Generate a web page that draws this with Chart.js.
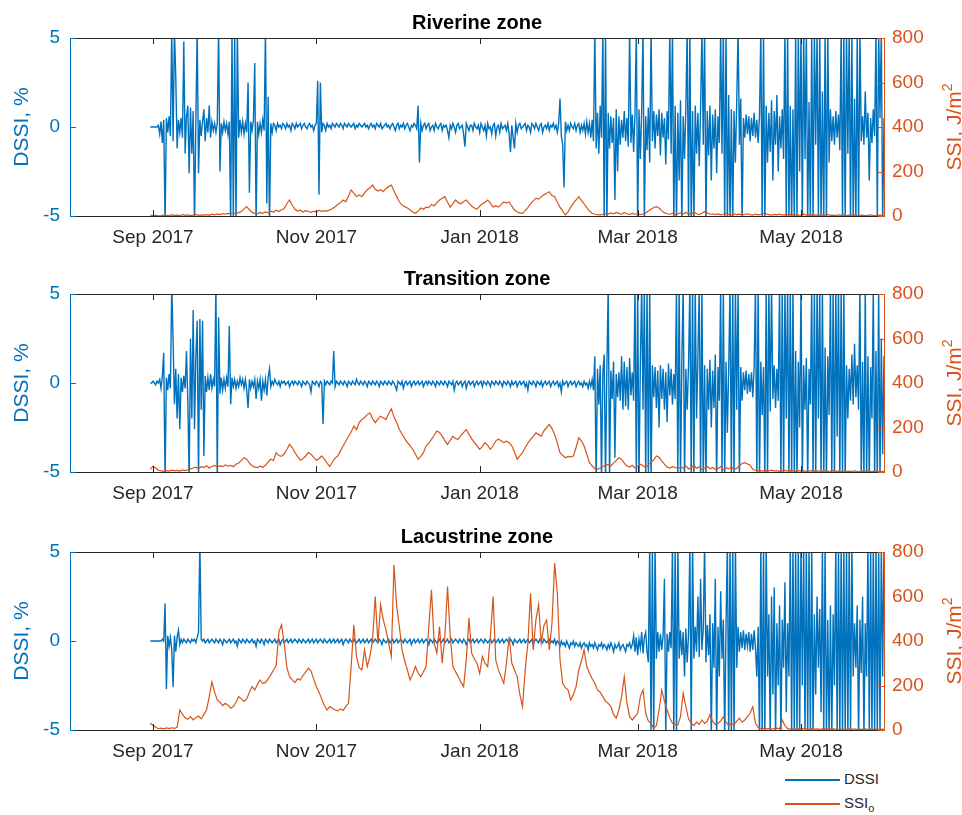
<!DOCTYPE html>
<html>
<head>
<meta charset="utf-8">
<script src="https://cdn.jsdelivr.net/npm/chart.js@4.4.1/dist/chart.umd.min.js"></script>
<style>
  body { margin: 0; background: #fff; width: 962px; height: 815px; position: relative; overflow: hidden;
         font-family: "Liberation Sans", Arial, sans-serif; }
  canvas.panel { position: absolute; left: 0; }
  .ssiTitle { position: absolute; left: 954px; width: 0; height: 0; }
  .ssiTitle span { position: absolute; white-space: nowrap; font-size: 21px; line-height: 24px; color: #D95319;
                   transform: translate(-50%, -50%) rotate(-90deg); }
  .ssiTitle sup { font-size: 14px; line-height: 0; vertical-align: 0; position: relative; top: -9px; }
  .legend { position: absolute; left: 785px; top: 767px; font-size: 15px; color: #262626; }
  .legend .row { height: 24px; line-height: 24px; white-space: nowrap; }
  .legend .swatch { display: inline-block; width: 55px; height: 1.5px; vertical-align: middle; margin-right: 4px; }
  .legend sub { font-size: 11px; }
</style>
</head>
<body>
<canvas id="riverine" class="panel" width="954" height="250" style="top:0px"></canvas>
<canvas id="transition" class="panel" width="954" height="250" style="top:256px"></canvas>
<canvas id="lacustrine" class="panel" width="954" height="250" style="top:514px"></canvas>

<div class="ssiTitle" style="top:127px"><span>SSI, J/m<sup>2</sup></span></div>
<div class="ssiTitle" style="top:383px"><span>SSI, J/m<sup>2</sup></span></div>
<div class="ssiTitle" style="top:641px"><span>SSI, J/m<sup>2</sup></span></div>

<div class="legend">
  <div class="row"><span class="swatch" style="background:#0072BD"></span>DSSI</div>
  <div class="row"><span class="swatch" style="background:#D95319"></span>SSI<sub>o</sub></div>
</div>

<script>
// x axis in days, day 0 = 1 Sep 2017
const tickDays = [0, 61, 122, 181, 242];
const tickLabels = ['Sep 2017', 'Nov 2017', 'Jan 2018', 'Mar 2018', 'May 2018'];
const firstDay = -1;   // records start 31 Aug 2017
const dssiStep = 0.5;  // DSSI: two readings a day
const ssiStep = 1;     // SSI: daily

// DSSI, %  (rows of ten days)
const dssiRiverine = [
  0,0,0,0,0,0,0.1,-0.4,0.3,-0.9,0.4,-5.5,0.5,-0.3,0.6,-0.5,5.5,-0.8,5.5,2.8,
  -1.2,0.4,-0.3,0.5,-0.6,4.8,-1.5,0.6,1.2,-2.6,1.1,-1.5,0.9,-5.5,0.3,5.5,-2.6,0.4,-0.5,0.3,
  1.0,-0.8,0.5,-0.3,1.2,-0.6,0.3,-0.2,0.2,-0.3,0.2,5.5,-2.5,0.2,-0.3,0.3,-0.2,0.2,-0.4,0.3,
  -5.5,5.5,-5.5,5.5,-5.5,5.5,-0.6,0.4,-0.3,0.3,-0.4,0.2,-0.3,2.5,-3.7,0.3,-0.2,0.4,3.6,-5.5,
  0.3,-0.4,0.2,-0.3,0.4,-0.2,5.5,-4.3,1.7,-5.5,0.2,-0.3,0.2,0.1,-0.2,0.2,0,0.1,-0.1,0.2,
  0.1,-0.1,0.2,0,0.1,-0.2,0.2,0.1,-0.1,0.2,0,0.1,0.2,-0.1,0.1,0.2,0,-0.1,0.1,0.2,
  0,0.1,-0.2,0.1,0.2,2.6,-3.8,2.5,-0.3,0.2,0.1,-0.2,0.2,0,0.1,-0.1,0.2,0.1,0,0.2,
  0.1,0,0.2,0.1,-0.1,0.2,0.1,0,0.2,0.1,0,0.1,0.2,-0.1,0.1,0,0.2,0.1,0,0.1,
  0.2,0,0.1,-0.1,0.1,0.2,0,0.1,-0.1,0.2,0.1,0,0.2,-0.1,0,0.1,0.2,0,0.1,-0.1,
  0.1,0.2,0,-0.2,0.1,0.2,-0.1,0.1,0,0.2,-0.1,0.1,0.2,0,-0.2,0.1,0,0.2,0.1,-0.1,
  1.2,-2.0,0.2,-0.2,0.1,0.2,-0.1,0.1,0.2,-0.2,0,0.1,-0.2,0.2,0,-0.1,0.1,0.2,-0.2,0.1,
  0,0.1,-0.2,-0.6,0.1,-0.1,0.2,0,-0.3,0.1,0.2,-0.1,0,0.1,-0.4,-1.1,0.2,0,-0.2,0.1,
  0.1,-0.2,0.2,0,-0.1,0.1,-0.3,0.2,0,-0.2,0.1,-0.5,0.2,-0.1,0,-0.4,0.1,0.2,-0.5,0,
  0.1,-0.3,0.2,-0.1,0,0.1,-0.2,0.2,-0.4,-1.4,0.1,-0.6,-1.2,0.2,-0.3,0.1,0.2,-0.1,0,0.1,
  0.2,-0.2,0.1,0,-0.3,0.2,0.1,-0.1,0.2,0,-0.2,0.1,0.2,-0.3,0,0.1,-0.1,0.2,-0.2,0.1,
  0,0.2,-0.1,0.1,-0.3,0.2,1.6,-0.5,-1.0,-3.4,0.3,-0.2,0.1,-0.2,0.2,0,-0.1,0.2,-0.2,0.1,
  0.2,-0.3,0.1,-0.2,0.2,-0.4,0.3,-0.3,0.2,-0.6,0.4,-0.8,5.5,-1.2,0.8,-1.5,1.2,-0.6,5.5,-5.5,
  5.5,-5.5,0.8,-1.2,0.6,-0.9,0.5,-4.1,1.0,-2.5,0.6,-1.0,0.4,-0.6,0.9,-0.8,0.5,-1.1,5.5,-0.9,
  0.7,-1.4,0.8,5.5,-5.5,1.0,-1.8,0.9,5.5,-5.5,0.6,-1.3,1.1,-2.0,5.5,-0.8,0.9,-1.2,0.7,-0.5,
  1.0,-1.6,0.8,-0.6,0.5,-2.1,0.9,-0.7,5.5,-1.5,5.5,-5.5,1.2,-5.5,0.8,-3.0,1.5,-5.5,0.6,-1.8,
  1.1,5.5,-5.5,5.5,-5.5,0.9,-5.5,1.2,-1.5,0.8,-2.2,1.0,5.5,-1.0,5.5,-5.5,0.9,-1.6,1.2,-3.0,
  0.7,-1.2,1.0,-2.6,0.6,-0.9,5.5,-1.5,5.5,-5.5,5.5,-5.5,1.8,-5.5,1.0,-5.5,0.9,-2.0,1.4,5.5,
  -1.0,1.6,-5.5,0.5,-0.6,0.7,-0.4,0.6,-0.8,0.5,-0.5,0.8,-0.6,0.4,-0.9,0.6,5.5,-5.5,5.5,-5.5,
  1.2,-2.0,0.8,-1.4,1.5,-3.0,0.9,-1.0,1.8,-2.5,0.6,-1.2,1.0,-1.8,5.5,-5.5,5.5,-5.5,1.2,-5.5,
  1.0,-5.5,5.5,-5.5,5.5,-2.5,5.5,-5.5,5.5,-1.8,5.5,-5.5,1.4,-5.5,5.5,-5.5,5.5,-1.0,5.5,-5.5,
  5.5,-5.5,2.0,-5.5,5.5,-5.5,5.5,-2.0,1.0,-0.8,0.6,-1.0,0.9,-0.6,0.7,-1.3,5.5,-5.5,5.5,-5.5,
  5.5,-1.5,5.5,-5.5,5.5,-5.5,1.6,-5.5,5.5,-5.5,5.5,-0.8,0.6,-1.0,2.0,-0.6,0.8,-3.0,0.5,-0.9,
  1.0,-0.5,5.5,-5.5,5.5,0.5,5.5,-5.5,0.5
];
const dssiTransition = [
  0,0,0.1,0,-0.1,0.1,0,0.2,-0.3,0.4,1.7,-5.5,0.3,-0.4,0.5,-0.3,5.5,2.4,-1.2,0.8,
  -2.0,0.5,-2.6,0.3,-0.5,0.4,-0.3,1.8,-1.0,-5.5,2.5,-2.0,4.1,-2.6,1.5,3.5,-5.5,3.6,-1.5,3.5,
  -4.1,0.4,-0.5,0.3,-0.4,0.5,-0.3,0.2,-0.2,5.5,-5.5,3.7,-0.6,0.3,-0.4,0.2,-0.3,0.3,-0.2,3.2,
  -1.2,0.3,-0.2,0.2,-0.3,0.1,-0.2,0.3,-0.1,0.2,-0.3,0.2,-0.4,-1.4,0.2,-0.3,0.1,-0.2,0.2,-0.9,
  0.1,-0.3,0.2,-1.0,0.1,-0.4,0.2,-0.7,0.3,0.8,-0.2,0.1,-0.1,0.2,0,-0.1,0.1,-0.2,0.1,0,
  0.1,-0.1,0,0.1,-0.2,0,0.1,-0.1,0.1,0,-0.1,0.1,0,-0.2,0.1,0,-0.1,0.1,0,-0.1,
  -0.5,0.1,0,-0.1,0.1,0,-0.2,0.1,0,-2.3,0.1,-0.1,0.1,0,-0.1,0.1,0,1.8,-0.2,0.1,
  0,-0.1,0.1,0,-0.1,0.1,0,-0.2,0.1,0,-0.1,0.1,0,-0.1,0.2,0,-0.1,0.1,0,-0.1,
  0.1,0,-0.2,0.1,0,-0.1,0.1,0,-0.1,0.1,0,-0.2,0.1,0,-0.1,0.1,0,-0.1,0.1,0,
  -0.1,0.1,0,-0.2,-0.4,0.1,0,-0.1,0.1,-0.3,0,0.1,-0.1,0,0.1,-0.2,0,0.1,-0.1,0,
  0.1,-0.1,0,0.1,-0.2,0,0.1,-0.1,0.1,0,-0.1,0.1,0,-0.2,0.1,0,-0.1,0.1,0,-0.1,
  0.1,0,-0.2,0.1,0,-0.1,0.1,-0.4,0,0.1,-0.1,0,0.1,-0.2,0,0.1,-0.3,0,0.1,-0.1,
  0,0.1,-0.2,0,0.1,-0.1,0,0.1,-0.2,0.1,0,-0.1,0.1,0,-0.2,0.1,0,-0.1,0.1,0,
  -0.1,0.1,0,-0.2,0.1,0,-0.1,0.1,0,-0.2,0.1,-0.1,0,0.1,-0.2,0,0.1,-0.1,0,0.1,
  -0.2,0,-0.4,0.1,0,-0.1,0.1,0,-0.2,0.1,0,-0.1,0.1,-0.2,0,0.1,-0.1,0,0.1,-0.2,
  0,0.1,-0.1,0,0.1,-0.2,0,-0.5,0.1,-0.1,0,0.1,-0.2,0,0.1,-0.1,0,0.1,-0.2,0,
  0.1,-0.1,0,-0.2,0.1,-0.1,0,-0.3,0.1,-0.2,0.2,-0.4,1.5,-5.5,0.8,-1.2,1.0,-5.5,0.6,1.6,
  -5.5,0.8,5.5,-5.5,0.7,-0.9,1.2,-4.2,0.5,-0.8,0.6,-1.0,1.5,-1.5,1.2,-1.3,0.9,-1.5,1.4,-0.7,
  0.6,-1.0,5.5,-5.5,5.5,-5.5,1.0,5.5,-1.5,5.5,-5.5,5.5,-5.5,5.5,-5.5,1.0,-0.8,0.9,-1.4,0.7,
  -2.5,1.0,-0.9,0.8,-1.5,0.6,-2.2,1.1,-0.7,0.8,-1.2,0.5,-0.9,5.5,-5.5,5.5,-5.5,1.2,5.5,-5.5,
  0.8,-1.5,1.0,5.5,-5.5,5.5,-5.5,5.5,-2.0,1.4,5.5,-5.5,5.5,-5.5,1.0,-5.5,0.8,-1.5,1.3,-2.5,
  0.7,-1.4,1.6,-5.5,0.9,-1.0,5.5,-5.5,5.5,-5.5,1.2,-2.8,0.8,5.5,-5.5,5.5,-5.5,5.5,-1.5,5.5,
  -5.5,0.9,-1.0,0.6,-0.4,0.7,-0.6,0.5,-0.5,0.6,-0.8,0.9,5.5,-5.5,5.5,-5.5,1.2,-1.8,0.9,-5.5,
  5.5,-5.5,5.5,-1.6,5.5,-0.9,1.0,-1.4,0.8,-1.0,5.5,-5.5,5.5,-5.5,5.5,-2.0,5.5,-5.5,5.5,-5.5,
  5.5,-5.5,1.8,-5.5,1.2,-2.5,5.5,-5.5,1.0,-1.5,1.4,-5.5,0.8,-1.2,5.5,-5.5,5.5,-5.5,5.5,-2.0,
  5.5,-5.5,5.5,-5.5,2.0,-5.5,1.5,-1.8,5.5,-5.5,5.5,-5.5,5.5,-3.0,5.5,-5.5,5.5,-5.5,5.5,-5.5,
  1.0,-2.0,0.8,-1.0,1.6,-1.2,2.2,-0.8,1.0,-1.5,5.5,-5.5,1.2,-5.5,5.5,-5.5,1.5,-5.5,0.9,-2.0,
  5.5,-5.5,1.8,-5.5,5.5,-5.5,2.5,-4.0,1.5
];
const dssiLacustrine = [
  0,0,0,0,0,0,0,0,0,0.1,0,2.1,-2.7,0.3,-0.3,0.2,-0.5,-2.6,0.3,-0.6,
  0.2,0.6,-0.2,0.1,-0.1,0.1,0,-0.1,0.1,0,-0.1,0.1,0,0.1,-0.1,0.2,0.5,5.5,0.1,0,
  0.1,-0.1,0,0.1,-0.1,0,0.1,0,-0.1,0.1,0,-0.1,0.1,0,-0.2,0.1,0,-0.1,0,0.1,
  -0.1,0,0.1,-0.1,0,-0.3,0.1,0,-0.1,0.1,0,-0.1,0.1,0,-0.1,0,0.1,-0.1,0,-0.3,
  0.1,0,-0.1,0.1,0,-0.2,0.1,0,-0.1,0.1,0,-0.1,0,0.1,-0.1,0,0.1,-0.2,0,0.1,
  -0.1,0,0.1,-0.1,0,0.1,-0.1,0,0.1,0,-0.1,0.1,0,-0.1,0.1,0,-0.1,0,0.1,-0.1,
  0,0.1,-0.1,0,0.1,-0.1,0,0.1,0,-0.1,0.1,0,-0.1,0,0.1,-0.1,0,0.1,-0.1,0,
  0.1,-0.1,0,0.1,-0.2,0,0.1,0,-0.1,0.1,0,-0.1,0.1,0,-0.1,0,0.1,-0.1,0,0.1,
  -0.1,0,0.1,-0.1,0,0.1,-0.1,0,0.1,0,-0.1,0.1,0,-0.2,0.1,0,-0.1,0,0.1,-0.1,
  0,0.1,-0.1,0,0.1,-0.1,0,0.1,0,-0.1,0.1,0,-0.1,0,0.1,-0.2,0,0.1,-0.1,0,
  0.1,-0.1,0,0.1,-0.1,0,0.1,0,-0.2,0.1,0,-0.1,0.1,0,-0.1,0,0.1,-0.1,0,0.1,
  -0.1,0,0.1,-0.1,0,0.1,-0.1,0,0.1,0,-0.1,0.1,0,-0.1,0.1,0,-0.2,0,0.1,-0.1,
  0,0.1,-0.1,0,0.1,-0.1,0,0.1,0,-0.1,0.1,0,-0.1,0,0.1,-0.1,0,0.1,-0.1,0,
  0.1,-0.1,0,0.1,-0.1,0,0.1,0,-0.1,0.1,0,-0.2,0.1,0,-0.1,0,0.1,-0.1,0,0.1,
  -0.1,0,0.1,-0.1,0,0.1,-0.2,0,0.1,0,-0.1,0.1,0,-0.1,0.1,0,-0.1,0,0.1,-0.1,
  0,-0.1,0.1,-0.2,0,-0.1,-0.3,0,-0.2,-0.1,-0.3,0,-0.2,-0.4,-0.1,-0.2,0,-0.3,-0.1,-0.2,
  -0.3,-0.1,-0.4,-0.2,-0.1,-0.3,-0.2,-0.5,-0.1,-0.3,-0.2,-0.4,-0.1,-0.3,-0.5,-0.2,-0.3,-0.1,-0.4,-0.2,
  -0.3,-0.5,-0.2,-0.4,-0.1,-0.3,-0.6,-0.2,-0.4,-0.3,-0.1,-0.5,-0.3,-0.2,-0.4,-0.6,-0.2,-0.3,-0.1,-0.4,
  -0.2,0.3,-0.6,0.2,-0.8,0.1,-0.4,0.5,-0.7,0.2,0.5,-0.6,-1.2,5.5,-5.5,5.5,-5.5,5.5,-1.0,0.5,
  -0.6,0.4,-0.5,0.3,3.5,-5.5,0.4,-0.6,0.5,-0.4,5.5,-5.5,5.5,-5.5,5.5,-1.0,0.6,-0.8,0.5,-2.0,
  0.7,-1.2,0.4,5.5,-5.5,5.5,-1.0,0.8,-0.6,2.5,-0.9,3.5,-0.5,0.7,5.5,-1.2,0.9,-0.8,1.5,-5.5,
  1.0,-1.5,3.5,-5.5,0.8,-2.0,2.8,-1.0,1.2,-5.5,0.9,5.5,-5.5,5.5,-5.5,5.5,-5.5,5.5,-1.5,0.8,
  -0.6,0.5,-0.4,0.6,-0.5,0.4,-0.3,0.5,-0.6,0.4,-0.5,0.6,-0.4,-2.0,0.8,-5.5,5.5,-5.5,5.5,-5.5,
  5.5,-2.0,1.5,-5.5,2.5,-3.0,3.0,-5.5,1.0,-2.5,2.0,-5.5,1.2,-1.5,3.3,-4.0,1.0,-2.0,5.5,-5.5,
  5.5,-5.5,5.5,-5.5,5.5,-5.5,5.5,-2.5,5.5,-5.5,5.5,-5.5,5.5,-5.5,5.5,-5.5,1.5,-3.0,2.5,-1.5,
  1.8,-4.0,5.5,-5.5,5.5,-5.5,1.2,-5.5,2.0,-5.5,1.5,-2.5,5.5,-5.5,5.5,-5.5,5.5,-5.5,5.5,-5.5,
  5.5,-5.5,5.5,-5.5,5.5,-2.0,1.0,-1.5,2.0,-5.5,1.2,-1.8,2.5,-5.5,1.0,-2.0,5.5,-5.5,5.5,-5.5,
  5.5,-5.5,5.5,-5.5,5.5,-5.5,5.5,-2.0,5.5
];

// SSI, J/m2  (rows of ten days)
const ssiRiverine = [
  4,2,3,1,2,4,3,2,5,3,
  4,2,6,3,5,2,4,7,3,5,
  4,6,3,8,5,9,6,11,8,12,
  10,13,11,15,20,32,42,28,16,12,
  10,16,12,18,14,22,18,26,20,28,
  34,55,72,48,30,22,26,18,24,20,
  16,22,18,26,20,24,22,27,34,42,
  52,60,72,64,90,117,102,88,95,87,
  104,118,126,139,120,112,118,109,124,132,
  139,112,87,64,49,42,36,28,18,12,
  22,36,30,40,38,52,45,60,72,80,
  87,62,40,56,72,60,55,64,72,58,
  45,36,30,44,55,62,72,58,40,46,
  40,52,63,58,63,44,27,18,14,12,
  24,38,55,68,80,76,87,95,102,109,
  92,87,62,40,22,5,18,40,58,72,
  87,70,55,38,22,12,8,6,5,8,
  12,9,14,10,16,12,8,15,10,7,
  12,8,10,6,9,14,22,30,38,42,
  36,24,14,10,8,12,6,10,14,9,
  16,12,8,18,10,6,12,20,14,8,
  10,6,9,5,8,12,7,5,9,6,
  8,5,7,10,6,4,8,5,7,12,
  9,6,4,7,5,8,4,6,5,7,
  4,6,3,5,8,4,6,3,5,4,
  3,5,4,6,3,4,2,5,3,4,
  2,4,3,5,2,3,4,2,3,5,
  3,2,4,3,2
];
const ssiTransition = [
  12,27,18,8,5,3,6,4,8,5,
  7,4,9,6,10,14,18,22,15,24,
  20,28,18,25,30,22,28,24,32,26,
  30,24,35,40,52,64,58,40,28,22,
  20,26,21,30,45,57,52,87,74,70,
  82,102,124,110,87,70,53,60,72,87,
  80,66,53,60,72,58,40,25,45,62,
  72,95,117,138,161,180,206,190,222,236,
  245,258,266,240,222,238,251,244,236,262,
  284,248,222,191,170,150,132,118,102,80,
  57,70,87,118,130,147,165,184,178,161,
  140,124,142,161,150,147,165,178,191,170,
  150,132,118,102,115,132,120,102,118,140,
  147,140,132,138,132,118,90,57,72,87,
  110,130,147,160,176,168,161,185,200,214,
  195,169,130,87,75,64,70,68,72,110,
  154,140,117,80,42,28,15,12,18,25,
  30,34,28,40,52,64,58,40,27,22,
  30,18,25,35,28,20,32,42,55,72,
  66,50,35,22,18,24,20,16,22,18,
  28,14,20,30,16,24,12,18,26,14,
  20,12,16,24,10,18,14,22,12,16,
  28,38,42,36,30,12,8,5,6,4,
  6,5,8,4,6,3,5,7,4,6,
  5,3,6,4,5,3,4,6,3,5,
  4,2,5,3,4,6,3,4,2,5,
  3,4,2,5,3,2,4,3,5,2,
  3,4,2,3,2
];
const ssiLacustrine = [
  30,20,12,6,8,5,9,6,10,7,
  12,90,70,55,48,60,45,55,63,50,
  70,90,150,217,170,135,125,110,120,112,
  98,105,125,150,140,128,140,170,195,180,
  205,225,210,213,230,248,270,290,440,473,
  390,280,240,225,213,230,225,245,260,278,
  265,230,195,170,140,110,90,105,98,90,
  86,95,88,105,120,285,473,330,280,270,
  360,285,330,405,600,390,563,495,450,390,
  330,743,555,465,360,310,270,225,250,285,
  255,240,262,285,465,630,390,345,465,300,
  420,645,420,285,262,240,215,195,315,503,
  345,320,300,255,330,300,285,420,600,315,
  270,240,210,300,420,300,270,240,160,105,
  270,390,615,360,495,563,390,470,495,360,
  480,750,615,315,210,190,180,135,160,195,
  270,310,360,285,255,230,210,180,170,150,
  130,120,105,70,53,90,150,240,120,60,
  45,60,75,150,180,75,40,30,8,20,
  90,180,130,90,55,30,25,23,60,165,
  105,50,30,20,35,25,45,30,40,68,
  40,25,30,40,60,35,20,30,25,40,
  53,35,45,60,75,105,30,12,6,8,
  5,7,4,6,8,5,45,20,6,4,
  5,3,6,4,7,5,3,6,4,5,
  3,5,4,6,3,5,4,2,5,3,
  4,6,3,5,2,4,3,5,2,4,
  3,5,2,4,3
];

const BLUE = '#0072BD';
const ORANGE = '#D95319';
const GREY = '#262626';

Chart.defaults.font.family = '"Liberation Sans", Arial, sans-serif';

function points(values, step) {
  return values.map((v, i) => ({ x: firstDay + i * step, y: v }));
}

// top edge of the box plus inward tick marks on all four sides
const boxTicks = {
  id: 'boxTicks',
  afterDatasetsDraw(chart) {
    const { ctx, chartArea: a, scales } = chart;
    const len = 6;
    ctx.save();
    ctx.lineWidth = 1;
    ctx.strokeStyle = GREY;
    ctx.beginPath();
    ctx.moveTo(a.left, a.top + 0.5);
    ctx.lineTo(a.right, a.top + 0.5);
    scales.x.ticks.forEach(t => {
      const px = Math.round(scales.x.getPixelForValue(t.value)) + 0.5;
      ctx.moveTo(px, a.bottom);
      ctx.lineTo(px, a.bottom - len);
      ctx.moveTo(px, a.top);
      ctx.lineTo(px, a.top + len);
    });
    ctx.stroke();
    ctx.strokeStyle = BLUE;
    ctx.beginPath();
    scales.y.ticks.forEach(t => {
      const py = Math.round(scales.y.getPixelForValue(t.value)) + 0.5;
      ctx.moveTo(a.left, py);
      ctx.lineTo(a.left + len, py);
    });
    ctx.stroke();
    ctx.strokeStyle = ORANGE;
    ctx.beginPath();
    scales.y2.ticks.forEach(t => {
      const py = Math.round(scales.y2.getPixelForValue(t.value)) + 0.5;
      ctx.moveTo(a.right, py);
      ctx.lineTo(a.right - len, py);
    });
    ctx.stroke();
    ctx.restore();
  }
};

function drawPanel(id, title, dssi, ssi) {
  new Chart(document.getElementById(id), {
    type: 'line',
    data: {
      datasets: [
        { label: 'DSSI', data: points(dssi, dssiStep), yAxisID: 'y',
          borderColor: BLUE, borderWidth: 1.4, pointRadius: 0, tension: 0, order: 1 },
        { label: 'SSIo', data: points(ssi, ssiStep), yAxisID: 'y2',
          borderColor: ORANGE, borderWidth: 1.2, pointRadius: 0, tension: 0, order: 0 }
      ]
    },
    options: {
      responsive: false,
      animation: false,
      devicePixelRatio: 1,
      layout: { padding: 0 },
      events: [],
      plugins: {
        legend: { display: false },
        tooltip: { enabled: false },
        title: {
          display: true, text: title, color: '#000',
          font: { size: 20, weight: 'bold', lineHeight: '20px' },
          padding: { top: 13, bottom: 5 }
        }
      },
      scales: {
        x: {
          type: 'linear', min: -31, max: 273,
          afterBuildTicks: s => { s.ticks = tickDays.map(v => ({ value: v })); },
          ticks: {
            callback: v => tickLabels[tickDays.indexOf(v)],
            color: GREY, font: { size: 19 }, padding: 10,
            maxRotation: 0, autoSkip: false
          },
          grid: { display: false, drawTicks: false },
          border: { color: GREY, width: 1 },
          afterFit: s => { s.height = 34; }
        },
        y: {
          type: 'linear', position: 'left', min: -5, max: 5,
          ticks: { stepSize: 5, color: BLUE, font: { size: 19 }, padding: 10 },
          grid: { display: false, drawTicks: false },
          border: { color: BLUE, width: 1 },
          title: { display: true, text: 'DSSI, %', color: BLUE, font: { size: 21 }, padding: { top: 10, bottom: 0 } },
          afterFit: s => { s.width = 70; }
        },
        y2: {
          type: 'linear', position: 'right', min: 0, max: 800,
          ticks: { stepSize: 200, color: ORANGE, font: { size: 19 }, padding: 8 },
          grid: { display: false, drawTicks: false },
          border: { color: ORANGE, width: 1 },
          afterFit: s => { s.width = 70; }
        }
      }
    },
    plugins: [boxTicks]
  });
}

drawPanel('riverine', 'Riverine zone', dssiRiverine, ssiRiverine);
drawPanel('transition', 'Transition zone', dssiTransition, ssiTransition);
drawPanel('lacustrine', 'Lacustrine zone', dssiLacustrine, ssiLacustrine);
</script>
</body>
</html>
